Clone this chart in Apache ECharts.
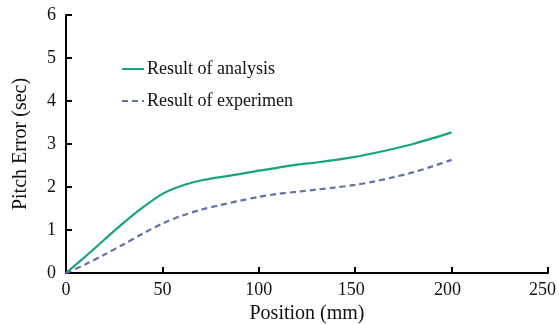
<!DOCTYPE html>
<html>
<head>
<meta charset="utf-8">
<script src="https://cdn.jsdelivr.net/npm/echarts@6/dist/echarts.min.js"></script>
<style>
html,body{margin:0;padding:0;background:#fff;}
#chart{width:559px;height:324px;}
</style>
</head>
<body>
<div id="chart"></div>
<script>
// Position along the axis (mm)
const positions = [0,10,20,30,40,50,60,70,80,90,100,110,120,130,140,150,160,170,180,190,200];
// Pitch error from analysis (sec)
const analysis = [0,0.38,0.78,1.17,1.53,1.84,2.03,2.15,2.23,2.30,2.38,2.45,2.52,2.57,2.63,2.70,2.79,2.89,3.00,3.13,3.27];
// Pitch error measured in experiment (sec)
const experiment = [0,0.20,0.43,0.67,0.92,1.15,1.33,1.47,1.58,1.68,1.77,1.84,1.89,1.94,1.99,2.05,2.13,2.23,2.34,2.48,2.63];
const seriesNames = ['Result of analysis', 'Result of experimen'];

const font = '"Liberation Serif", "Times New Roman", serif';
const chart = echarts.init(document.getElementById('chart'));
const pair = (xs, ys) => xs.map((x, i) => [x, ys[i]]);

// Tick labels toward the right end sit a little left of their ticks
const labelStyle = (pad) => ({ fontFamily: font, fontSize: 18, color: '#111', padding: [0, pad, 0, 0] });

chart.setOption({
  animation: false,
  grid: { left: 66, right: 11, top: 15, bottom: 51, containLabel: false, outerBoundsMode: 'none' },
  legend: {
    orient: 'vertical',
    left: 116,
    top: 55,
    itemWidth: 22,
    itemHeight: 12,
    itemGap: 14,
    itemStyle: { opacity: 0 },
    textStyle: { fontFamily: font, fontSize: 18, color: '#111', padding: [0, 0, 0, -2] },
    data: seriesNames
  },
  xAxis: {
    type: 'value', min: 0, max: 250, interval: 50,
    name: 'Position (mm)', nameLocation: 'middle', nameGap: 30,
    nameTextStyle: { fontFamily: font, fontSize: 20, color: '#111' },
    axisLine: { lineStyle: { color: '#000', width: 2 } },
    axisTick: { inside: true, length: 6, lineStyle: { color: '#000', width: 2 } },
    axisLabel: {
      fontFamily: font, fontSize: 18, color: '#111', margin: 8,
      formatter: (v) => v >= 250 ? '{c|' + v + '}' : v >= 150 ? '{b|' + v + '}' : '{a|' + v + '}',
      rich: { a: labelStyle(0), b: labelStyle(8), c: labelStyle(11) }
    },
    splitLine: { show: false }
  },
  yAxis: {
    type: 'value', min: 0, max: 6, interval: 1,
    name: 'Pitch Error (sec)', nameLocation: 'middle', nameGap: 35,
    nameTextStyle: { fontFamily: font, fontSize: 20, color: '#111' },
    axisLine: { show: true, lineStyle: { color: '#000', width: 2 } },
    axisTick: { show: true, inside: true, length: 6, lineStyle: { color: '#000', width: 2 } },
    axisLabel: { fontFamily: font, fontSize: 18, color: '#111', margin: 10 },
    splitLine: { show: false }
  },
  series: [
    {
      name: seriesNames[0], type: 'line', smooth: 0.3, symbol: 'none',
      data: pair(positions, analysis),
      lineStyle: { color: '#17a57e', width: 2.2 },
      itemStyle: { color: '#17a57e' }
    },
    {
      name: seriesNames[1], type: 'line', smooth: 0.3, symbol: 'none',
      data: pair(positions, experiment),
      lineStyle: { color: '#6670a8', width: 2.2, type: [6, 4] },
      itemStyle: { color: '#6670a8' }
    }
  ]
});
</script>
</body>
</html>
